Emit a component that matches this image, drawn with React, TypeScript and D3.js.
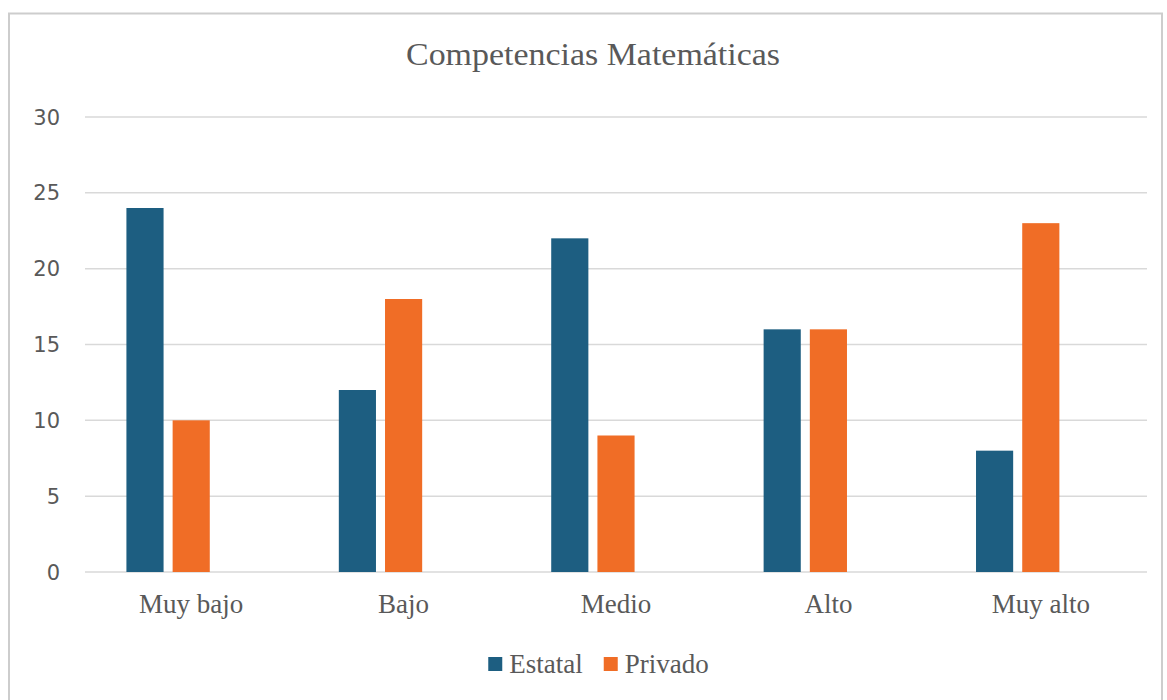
import React, { useRef, useEffect } from 'react';
import * as d3 from 'd3';

// Datos del gráfico
const categories = ['Muy bajo', 'Bajo', 'Medio', 'Alto', 'Muy alto'];
const series = ['Estatal', 'Privado'];
const estatal = [24, 12, 22, 16, 8];
const privado = [10, 18, 9, 16, 23];
const yTicks = [0, 5, 10, 15, 20, 25, 30];
const title = 'Competencias Matemáticas';

const colors = ['#1d5e81', '#f06d26'];

export default function App() {
  const ref = useRef<SVGSVGElement>(null);

  useEffect(() => {
    const width = 1167;
    const height = 700;
    const margin = { top: 117, right: 20, bottom: 128, left: 85 };
    const svg = d3.select(ref.current);
    svg.selectAll('*').remove();
    svg.attr('width', width).attr('height', height).attr('viewBox', `0 0 ${width} ${height}`);

    const serif = '"Liberation Serif", "Times New Roman", serif';
    const sans = '"DejaVu Sans", sans-serif';
    const textColor = '#595959';

    // background and chart frame
    svg.append('rect').attr('width', width).attr('height', height).attr('fill', '#fff');
    svg.append('rect')
      .attr('x', 9).attr('y', 13.5)
      .attr('width', 1153).attr('height', 700)
      .attr('fill', '#fff')
      .attr('stroke', '#cdcdcd')
      .attr('stroke-width', 2);

    const x0 = d3.scaleBand<string>()
      .domain(categories)
      .range([margin.left, width - margin.right])
      .paddingInner(0.39)
      .paddingOuter(0.195);

    // the original workbook keeps an empty third series slot, so bars sit left of the label
    const x1 = d3.scaleBand<string>()
      .domain([...series, ''])
      .range([0, x0.bandwidth()])
      .paddingInner(0.196);

    const y = d3.scaleLinear().domain([0, 30]).range([height - margin.bottom, margin.top]);

    // gridlines
    svg.append('g')
      .selectAll('line')
      .data(yTicks)
      .join('line')
      .attr('x1', margin.left)
      .attr('x2', width - margin.right)
      .attr('y1', d => y(d))
      .attr('y2', d => y(d))
      .attr('stroke', '#d9d9d9')
      .attr('stroke-width', 1.5);

    // y labels
    svg.append('g')
      .selectAll('text')
      .data(yTicks)
      .join('text')
      .attr('x', 60)
      .attr('y', d => y(d) + 7.5)
      .attr('text-anchor', 'end')
      .attr('font-family', sans)
      .attr('font-size', 21)
      .attr('fill', textColor)
      .text(d => d);

    // bars
    const values = [estatal, privado];
    series.forEach((s, si) => {
      svg.append('g')
        .selectAll('rect')
        .data(categories.map((c, i) => ({ c, v: values[si][i] })))
        .join('rect')
        .attr('x', d => (x0(d.c) as number) + (x1(s) as number))
        .attr('y', d => y(d.v))
        .attr('width', x1.bandwidth())
        .attr('height', d => y(0) - y(d.v))
        .attr('fill', colors[si]);
    });

    // category labels
    svg.append('g')
      .selectAll('text')
      .data(categories)
      .join('text')
      .attr('x', d => (x0(d) as number) + x0.bandwidth() / 2)
      .attr('y', 613)
      .attr('text-anchor', 'middle')
      .attr('font-family', serif)
      .attr('font-size', 27)
      .attr('fill', textColor)
      .text(d => d);

    // title
    svg.append('text')
      .attr('x', 593)
      .attr('y', 65)
      .attr('text-anchor', 'middle')
      .attr('font-family', serif)
      .attr('font-size', 31)
      .attr('fill', textColor)
      .attr('textLength', 374)
      .attr('lengthAdjust', 'spacingAndGlyphs')
      .text(title);

    // legend
    const legend = svg.append('g');
    let lx = 0;
    series.forEach((s, i) => {
      const g = legend.append('g').attr('transform', `translate(${lx},0)`);
      g.append('rect').attr('x', 0).attr('y', -16).attr('width', 14).attr('height', 14).attr('fill', colors[i]);
      const t = g.append('text')
        .attr('x', 21)
        .attr('y', 0)
        .attr('font-family', serif)
        .attr('font-size', 27)
        .attr('fill', textColor)
        .text(s);
      const w = (t.node() as SVGTextElement).getComputedTextLength();
      lx += 21 + w + 21;
    });
    const totalW = lx - 21;
    legend.attr('transform', `translate(${598.5 - totalW / 2},673)`);
  }, []);

  return (
    <div style={{ position: 'absolute', left: 0, top: 0 }}>
      <svg ref={ref} style={{ display: 'block' }} />
    </div>
  );
}
